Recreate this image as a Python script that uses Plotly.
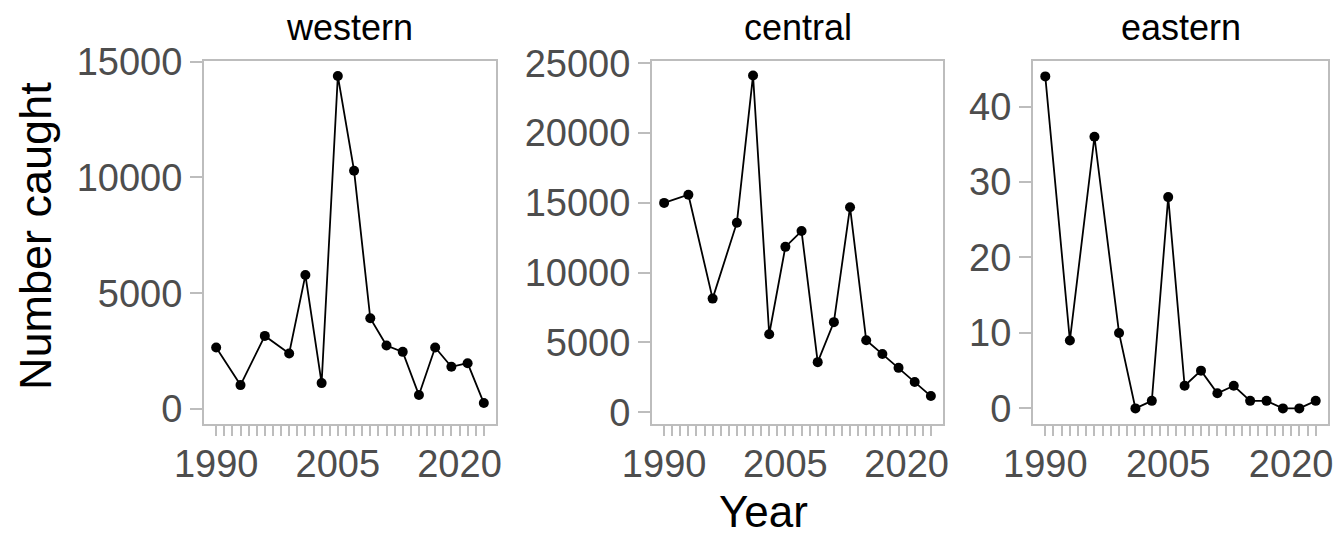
import plotly.graph_objects as go

# Survey years (same for every region)
years = [1990, 1993, 1996, 1999, 2001, 2003, 2005, 2007, 2009, 2011,
         2013, 2015, 2017, 2019, 2021, 2023]

# Number caught per region
western = [2656, 1034, 3158, 2397, 5785, 1120, 14384, 10293, 3919, 2742,
           2469, 603, 2656, 1823, 1981, 258]
central = [15000, 15583, 8141, 13584, 24133, 5588, 11850, 12982, 3589, 6455,
           14692, 5154, 4167, 3179, 2168, 1156]
eastern = [44, 9, 36, 10, 0, 1, 28, 3, 5, 2, 3, 1, 1, 0, 0, 1]

regions = ["western", "central", "eastern"]

# Axis tick values and labels
x_tick_years = list(range(1990, 2024))
x_labelled_years = [1990, 2005, 2020]
y_ticks_western = [0, 5000, 10000, 15000]
y_ticks_central = [0, 5000, 10000, 15000, 20000, 25000]
y_ticks_eastern = [0, 10, 20, 30, 40]

W, H = 1334, 535
FONT = "Liberation Sans, Arial, sans-serif"
TICK_GREY = "#4D4D4D"
LINE_GREY = "#BDBDBD"

# panel geometry in pixels
panel_x = [(204, 496), (652, 943), (1033, 1328)]
panel_top, panel_bottom = 61, 424
y_ranges = [(-646, 15030), (-845, 25170), (-2.07, 46.04)]
x_range = (1988.5, 2024.5)

series = [western, central, eastern]
y_ticks = [y_ticks_western, y_ticks_central, y_ticks_eastern]

fig = go.Figure()
layout = dict(
    width=W, height=H,
    margin=dict(l=0, r=0, t=0, b=0, autoexpand=False),
    paper_bgcolor="white", plot_bgcolor="white",
    showlegend=False,
    font=dict(family=FONT),
)

x_ticktext = [str(y) if y in x_labelled_years else "" for y in x_tick_years]

annotations = []
for i, (name, vals) in enumerate(zip(regions, series)):
    n = "" if i == 0 else str(i + 1)
    fig.add_trace(go.Scatter(
        x=years, y=vals, mode="lines+markers",
        line=dict(color="black", width=1.8),
        marker=dict(color="black", size=10),
        xaxis="x" + n, yaxis="y" + n,
    ))
    x0, x1 = panel_x[i]
    layout["xaxis" + n] = dict(
        domain=[x0 / W, x1 / W], range=list(x_range), anchor="y" + n,
        automargin=False,
        tickmode="array", tickvals=x_tick_years, ticktext=x_ticktext,
        ticks="outside", ticklen=10, tickwidth=1.5, tickcolor=LINE_GREY,
        ticklabelstandoff=-5,
        showgrid=False, zeroline=False,
        showline=True, mirror=True, linecolor=LINE_GREY, linewidth=2,
        tickfont=dict(size=38, color=TICK_GREY, family=FONT),
    )
    layout["yaxis" + n] = dict(
        domain=[1 - panel_bottom / H, 1 - panel_top / H],
        range=list(y_ranges[i]), anchor="x" + n,
        automargin=False,
        tickmode="array", tickvals=y_ticks[i],
        ticktext=[str(v) for v in y_ticks[i]],
        ticks="outside", ticklen=12, tickwidth=1.5, tickcolor=LINE_GREY,
        showgrid=False, zeroline=False,
        showline=True, mirror=True, linecolor=LINE_GREY, linewidth=2,
        tickfont=dict(size=38, color=TICK_GREY, family=FONT),
    )
    annotations.append(dict(
        text=name, x=(x0 + x1) / 2 / W, y=1 - 27 / H,
        xref="paper", yref="paper", xanchor="center", yanchor="middle",
        showarrow=False, font=dict(size=36, color="black", family=FONT),
    ))

annotations.append(dict(
    text="Year", x=763 / W, y=1 - 511 / H, xref="paper", yref="paper",
    xanchor="center", yanchor="middle", showarrow=False,
    font=dict(size=44, color="black", family=FONT),
))
annotations.append(dict(
    text="Number caught", x=36 / W, y=1 - 236 / H, xref="paper", yref="paper",
    xanchor="center", yanchor="middle", showarrow=False, textangle=-90,
    font=dict(size=45, color="black", family=FONT),
))
layout["annotations"] = annotations

fig.update_layout(**layout)
fig.write_html("out.html")
